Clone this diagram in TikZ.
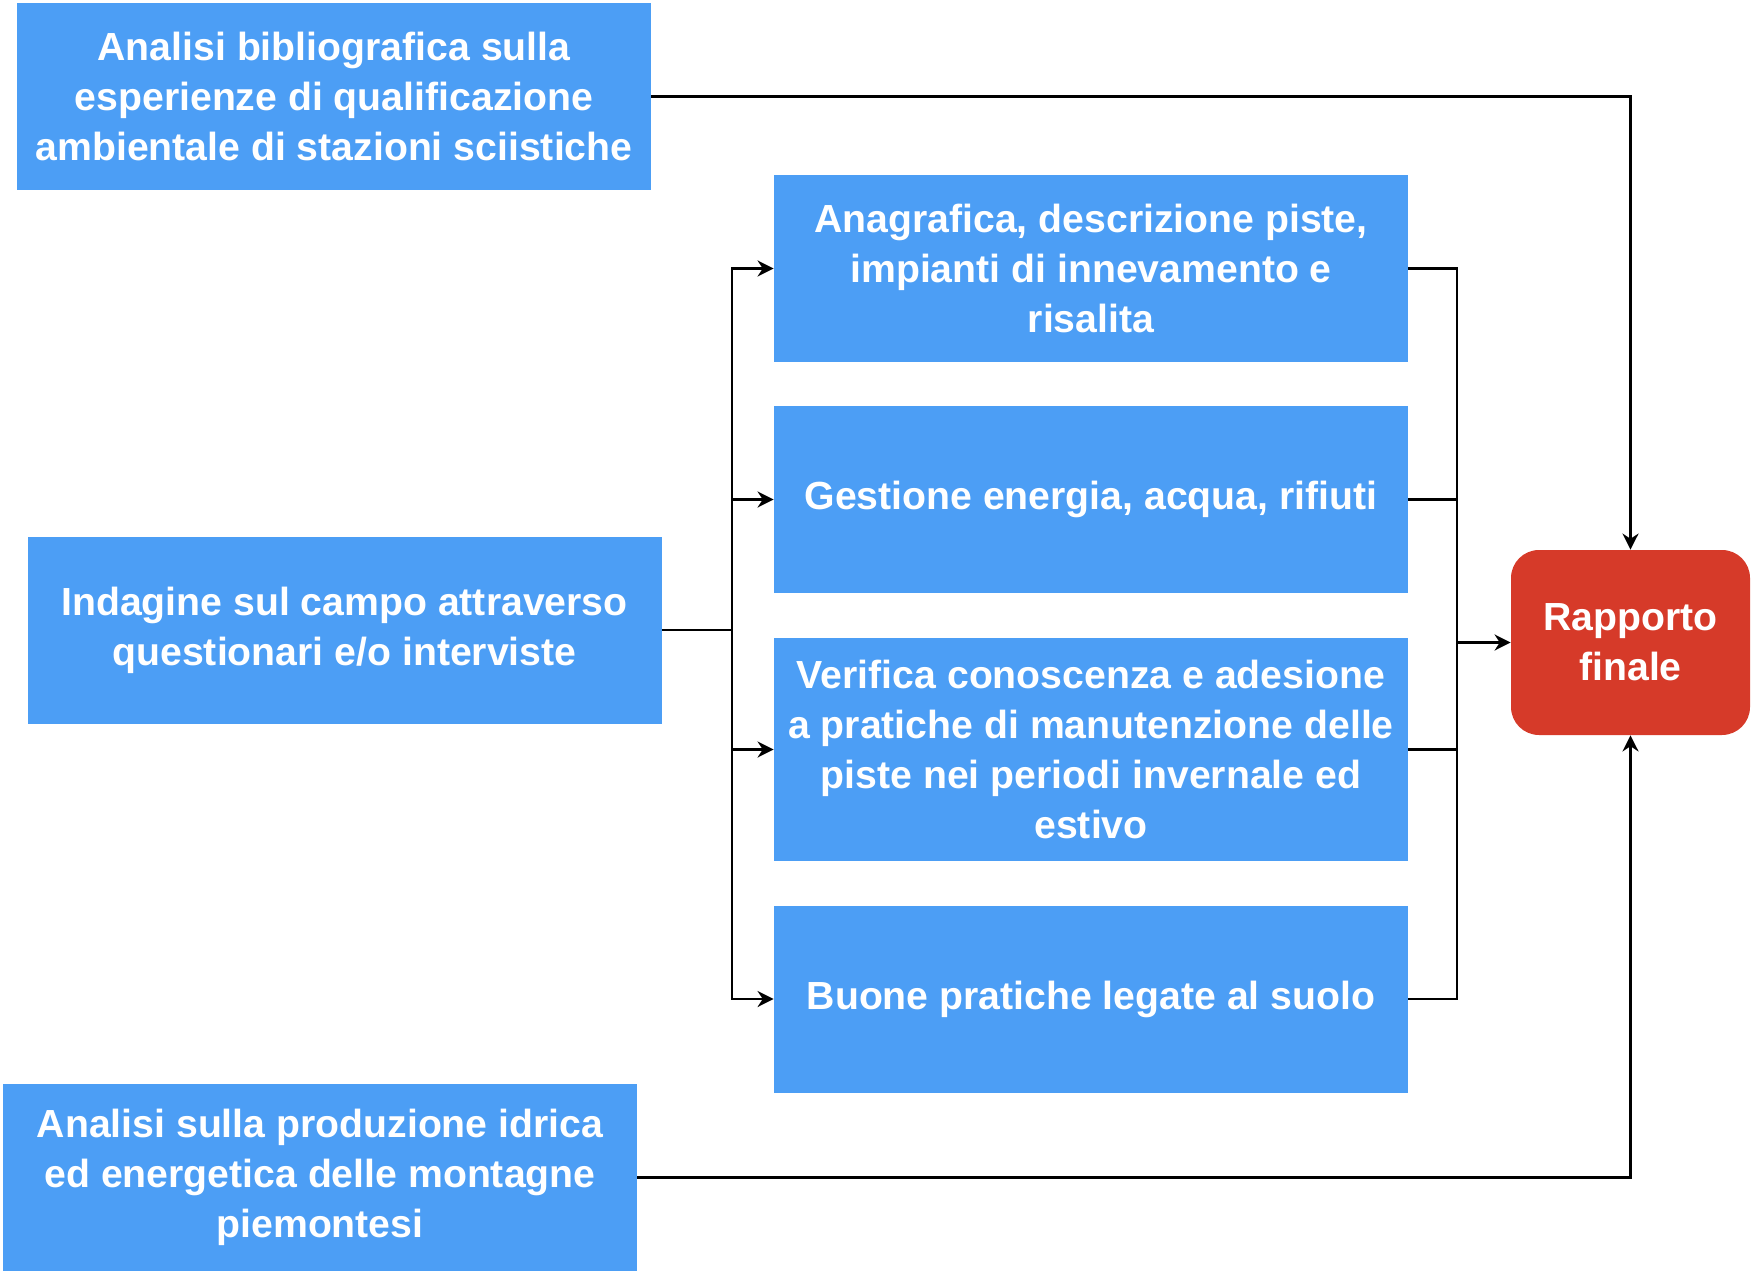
\documentclass[tikz,border=0pt]{standalone}
\usepackage{fontspec}
\setmainfont{Liberation Sans}
\usetikzlibrary{
  arrows.meta,
  positioning
}
\definecolor{boxblue}{RGB}{76,158,245}
\definecolor{boxred}{RGB}{214,58,41}

\begin{document}
\begin{tikzpicture}[x=0.5pt, y=-0.5pt, >=Stealth,
    font=\fontsize{19.6}{25}\selectfont\bfseries]

  \useasboundingbox (0,0) rectangle (1752,1273);

  \tikzset{
    bbox/.style={fill=boxblue, text=white, align=center, inner sep=1pt,
                 minimum width=317pt, minimum height=#1},
    bbox/.default=93.5pt,
    rbox/.style={fill=boxred, text=white, align=center, rounded corners=14pt,
                 minimum width=119.5pt, minimum height=92.5pt},
    conn/.style={draw, line width=1.4pt},
    arr/.style={conn, -{Stealth[length=8pt, width=8pt]}}
  }

  % left column
  \node[bbox] (biblio) at (334, 96.5)
    {Analisi bibliografica sulla\\esperienze di qualificazione\\ambientale di stazioni sciistiche};
  \node[bbox] (indagine) at (344.5, 630)
    {Indagine sul campo attraverso\\questionari e/o interviste};
  \node[bbox] (idrica) at (320, 1177.5)
    {Analisi sulla produzione idrica\\ed energetica delle montagne\\piemontesi};

  % middle column
  \node[bbox] (anagrafica) at (1091, 268.5)
    {Anagrafica, descrizione piste,\\impianti di innevamento e\\risalita};
  \node[bbox] (gestione) at (1091, 499.5)
    {Gestione energia, acqua, rifiuti};
  \node[bbox=111.5pt] (verifica) at (1091, 749.5)
    {Verifica conoscenza e adesione\\a pratiche di manutenzione delle\\piste nei periodi invernale ed\\estivo};
  \node[bbox] (suolo) at (1091, 999)
    {Buone pratiche legate al suolo};

  % result
  \node[rbox] (rapporto) at (1630.5, 642.5) {Rapporto\\finale};

  % bus coordinates
  \coordinate (lbus) at (732, 630);
  \coordinate (rbus) at (1457, 642.5);

  % fan out from the field survey
  \draw[conn] (indagine.east) -- (lbus);
  \draw[arr] (lbus) |- (anagrafica.west);
  \draw[arr] (lbus) |- (gestione.west);
  \draw[arr] (lbus) |- (verifica.west);
  \draw[arr] (lbus) |- (suolo.west);

  % collect into the final report
  \draw[conn] (anagrafica.east) -| (rbus);
  \draw[conn] (gestione.east) -| (rbus);
  \draw[conn] (verifica.east) -| (rbus);
  \draw[conn] (suolo.east) -| (rbus);
  \draw[arr] (rbus) -- (rapporto.west);

  % top and bottom inputs
  \draw[arr] (biblio.east) -| (rapporto.north);
  \draw[arr] (idrica.east) -| (rapporto.south);

\end{tikzpicture}
\end{document}
